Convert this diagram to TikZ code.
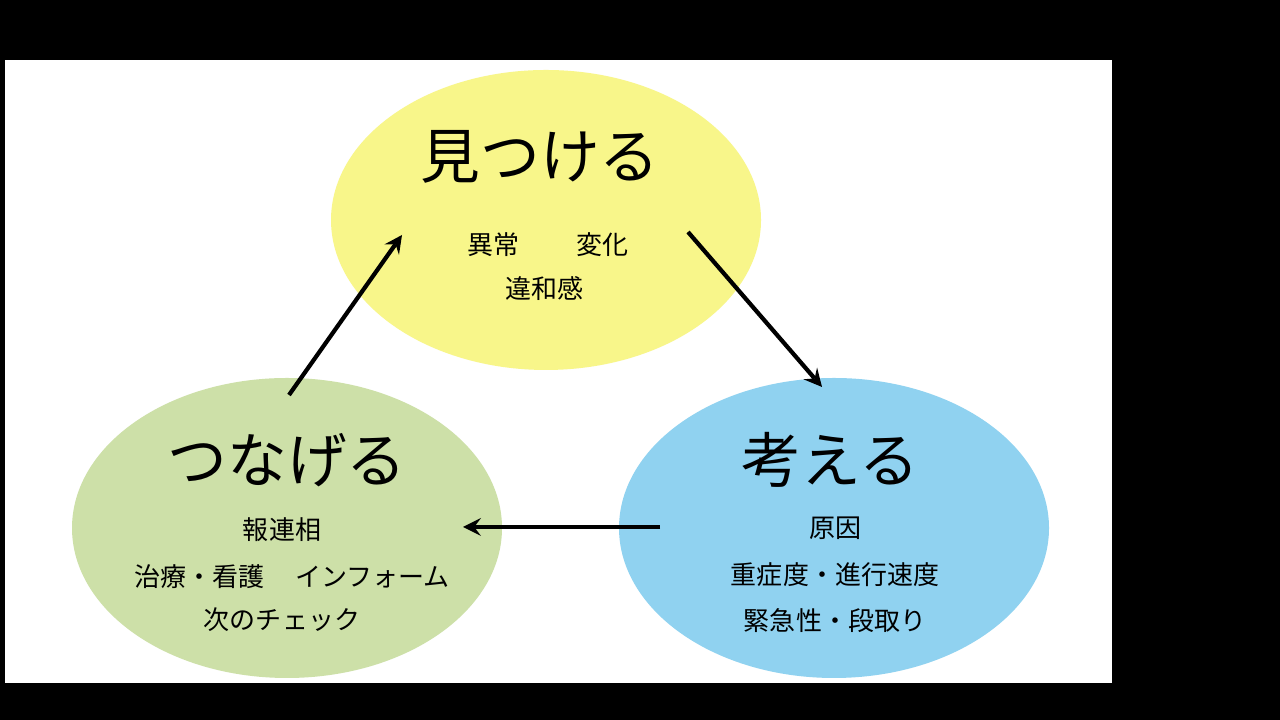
\documentclass[tikz,border=0pt]{standalone}
\usepackage{fontspec}
\newfontfamily\cjk{Noto Sans CJK JP}
\usetikzlibrary{positioning}
\definecolor{findyellow}{HTML}{F8F68A}
\definecolor{linkgreen}{HTML}{CDE0A8}
\definecolor{thinkblue}{HTML}{90D2F0}
\tikzset{
  blob/.style={ellipse, minimum width=4.3cm, minimum height=3.0cm, draw=none},
  title/.style={font=\cjk\fontsize{17}{17}\selectfont},
  item/.style={font=\cjk\fontsize{7.4}{7.4}\selectfont},
  flow/.style={very thick, -stealth}
}
\usetikzlibrary{shapes.geometric}
\begin{document}
\begin{tikzpicture}

\fill[black] (0,0) rectangle (12.8,7.2);
\fill[white] (0.05,0.37) rectangle (11.12,6.6);

\node[blob, fill=findyellow] (find) at (5.46,5.0) {};
\node[blob, fill=linkgreen] (link) at (2.87,1.92) {};
\node[blob, fill=thinkblue] (think) at (8.34,1.92) {};

\node[title] (findt) at (5.40,5.63) {見つける};
\node[item] (finda) at (5.48,4.75) {異常\hspace{2.2em}変化};
\node[item] (findb) at (5.44,4.31) {違和感};

\node[title] (thinkt) at (8.30,2.60) {考える};
\node[item] (thinka) at (8.35,1.92) {原因};
\node[item] (thinkb) at (8.35,1.45) {重症度・進行速度};
\node[item] (thinkc) at (8.35,0.99) {緊急性・段取り};

\node[title] (linkt) at (2.87,2.60) {つなげる};
\node[item] (linka) at (2.82,1.90) {報連相};
\node[item] (linkb) at (2.92,1.43) {治療・看護\hspace{1.2em}インフォーム};
\node[item] (linkc) at (2.82,1.00) {次のチェック};

\coordinate (a1) at (6.88,4.88);
\coordinate (a2) at (8.22,3.33);
\coordinate (b1) at (6.60,1.93);
\coordinate (b2) at (4.63,1.93);
\coordinate (c1) at (2.89,3.25);
\coordinate (c2) at (4.02,4.85);
\draw[flow] (a1) -- (a2);
\draw[flow] (b1) -- (b2);
\draw[flow] (c1) -- (c2);

\end{tikzpicture}
\end{document}
